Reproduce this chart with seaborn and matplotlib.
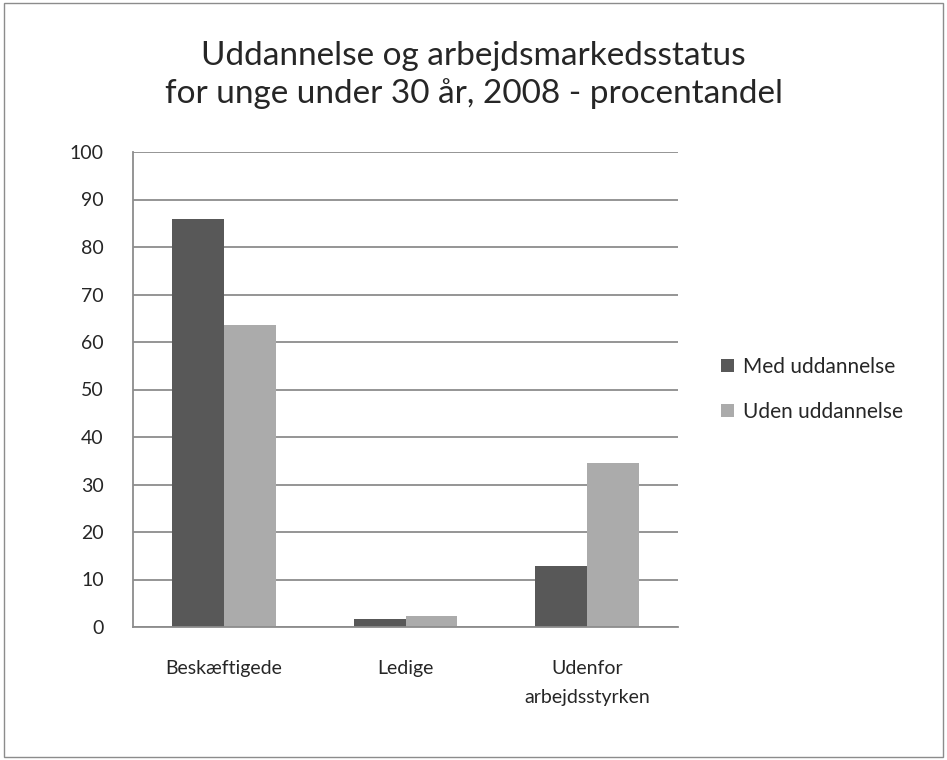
import pandas as pd
import seaborn as sns
import matplotlib.pyplot as plt
from matplotlib.patches import Rectangle

kategorier = ['Beskæftigede', 'Ledige', 'Udenfor\narbejdsstyrken']
med_uddannelse = [86, 1.6, 12.9]
uden_uddannelse = [63.5, 2.4, 34.5]
serier = ['Med uddannelse', 'Uden uddannelse']

df = pd.DataFrame({
    'kategori': kategorier * 2,
    'serie': [serier[0]] * 3 + [serier[1]] * 3,
    'procent': med_uddannelse + uden_uddannelse,
})

sns.set_style('white')
plt.rcParams['font.family'] = ['Lato', 'DejaVu Sans']

fig = plt.figure(figsize=(9.47, 7.6), dpi=100)
ax = fig.add_axes([133 / 947, 1 - 627 / 760, (678 - 133) / 947, (627 - 152) / 760])

sns.barplot(data=df, x='kategori', y='procent', hue='serie', ax=ax,
            palette=['#585858', '#ababab'], width=0.57, saturation=1,
            edgecolor='none')

ax.set_ylim(0, 100)
ax.set_xlim(-0.5, 2.5)
ax.set_yticks(range(0, 101, 10))
ax.yaxis.grid(True, color='#8c8c8c', linewidth=1.3)
ax.set_axisbelow(True)
ax.set_xlabel('')
ax.set_ylabel('')
for s in ['top', 'right']:
    ax.spines[s].set_visible(False)
for s in ['left', 'bottom']:
    ax.spines[s].set_color('#8c8c8c')
    ax.spines[s].set_linewidth(1.3)
ax.tick_params(axis='y', length=5, color='#8c8c8c', width=1.3, labelsize=14, pad=16)
ax.tick_params(axis='x', which='major', length=0, labelsize=14, pad=24)
for lbl in ax.get_xticklabels():
    lbl.set_linespacing(1.85)
ax.set_xticks([-0.5, 0.5, 1.5, 2.5], minor=True)
ax.tick_params(axis='x', which='minor', length=5, color='#8c8c8c', width=1.3, direction='out')

leg = ax.legend(loc='center left', bbox_to_anchor=(1.045, 0.50), frameon=False,
                fontsize=15, handlelength=0.6, handleheight=0.6, handletextpad=0.45,
                labelspacing=1.2)

fig.suptitle('Uddannelse og arbejdsmarkedsstatus\nfor unge under 30 år, 2008 - procentandel',
             y=1 - 75 / 760, va='center', fontsize=24, linespacing=1.3)

fig.patches.append(Rectangle((0.004, 0.004), 0.992, 0.992, transform=fig.transFigure,
                             fill=False, edgecolor='#8c8c8c', linewidth=1))

fig.savefig('out.png', dpi=100)
